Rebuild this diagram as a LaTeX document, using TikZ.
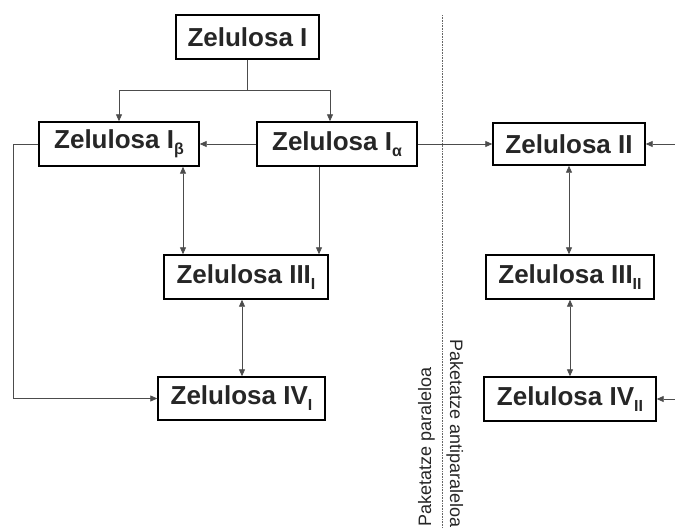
\documentclass[tikz,border=0pt]{standalone}
\usepackage{fontspec}
\setmainfont{Liberation Sans}
\usetikzlibrary{arrows.meta}
\newcommand\lowsb[1]{\raisebox{-6pt}{\fontsize{16}{16}\selectfont #1}}
\begin{document}
\begin{tikzpicture}[x=1pt,y=-1pt,
  box/.style={draw=black,line width=1.4pt,inner sep=0pt,font=\fontsize{26}{26}\bfseries\selectfont,text=black!85},
  conn/.style={draw=black!70,line width=0.8pt},
  arr/.style={conn,-{Triangle[length=7pt,width=6pt]}},
  darr/.style={conn,{Triangle[length=7pt,width=6pt]}-{Triangle[length=7pt,width=6pt]}},
  side/.style={font=\fontsize{18}{18}\selectfont,text=black!85,inner sep=0pt}]
\useasboundingbox (0,0) rectangle (675,528);
\node[box,minimum width=143pt,minimum height=44pt] (z1) at (247.5,37) {Zelulosa I};
\node[box,minimum width=160pt,minimum height=44pt] (zb) at (119,144) {Zelulosa I\lowsb{β}};
\node[box,minimum width=160pt,minimum height=44pt] (za) at (337,144) {Zelulosa I\lowsb{α}};
\node[box,minimum width=164pt,minimum height=44pt] (z3) at (246,277) {Zelulosa III\lowsb{I}};
\node[box,minimum width=167pt,minimum height=43pt] (z4) at (241.5,398.5) {Zelulosa IV\lowsb{I}};
\node[box,minimum width=152pt,minimum height=42pt] (z2) at (569,144) {Zelulosa II};
\node[box,minimum width=168pt,minimum height=44pt] (z32) at (570,277) {Zelulosa III\lowsb{II}};
\node[box,minimum width=172pt,minimum height=44pt] (z42) at (570,399) {Zelulosa IV\lowsb{II}};
\coordinate (top) at (442,15);
\coordinate (bot) at (442,528);
\coordinate (r1) at (675,144);
\coordinate (r2) at (675,399);
\coordinate (lc) at (13,144);
\draw[draw=black!60,line width=0.8pt,dash pattern=on 1pt off 0.6pt] (top) -- (bot);
\node[side,rotate=90,anchor=base west] (pp) at (431,527) {Paketatze paraleloa};
\node[side,rotate=-90,anchor=base west] (pa) at (450,339) {Paketatze antiparaleloa};
\draw[conn] (z1.south) -- ++(0,31) coordinate (j);
\draw[arr] (j) -| (zb.north);
\draw[arr] (j) -| ([xshift=-7pt]za.north);
\draw[arr] (za.west) -- (zb.east);
\draw[arr] (zb.west) -- (lc) |- (z4.west);
\draw[arr] (za.east) -- (z2.west);
\draw[arr] (r1) -- (z2.east);
\draw[arr] (r2) -- (z42.east);
\draw[darr] ([xshift=64pt]zb.south) -- ([xshift=64pt]zb.south |- z3.north);
\draw[arr] ([xshift=-18pt]za.south) -- ([xshift=-18pt]za.south |- z3.north);
\draw[darr] ([xshift=-4pt]z3.south) -- ([xshift=-4pt]z3.south |- z4.north);
\draw[darr] (z2.south) -- (z2.south |- z32.north);
\draw[darr] (z32.south) -- (z42.north);
\end{tikzpicture}
\end{document}
